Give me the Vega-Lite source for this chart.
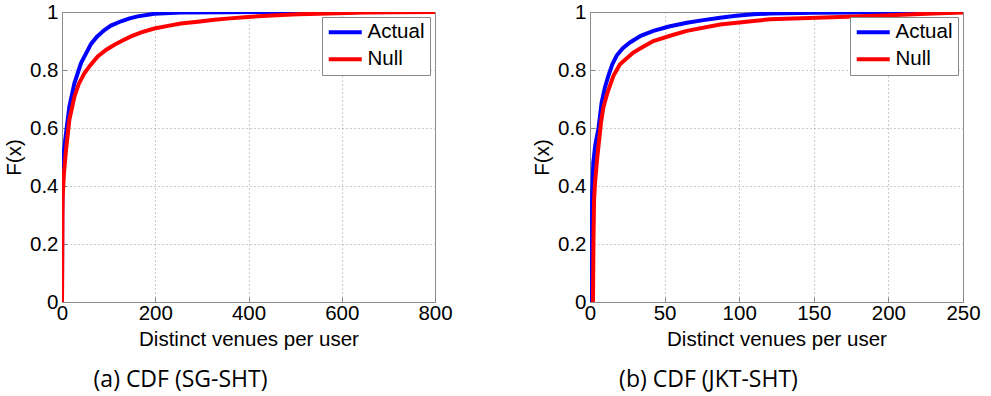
{
  "$schema": "https://vega.github.io/schema/vega-lite/v6.json",
  "padding": {"left": 4, "top": 1, "right": 0, "bottom": 0},
  "background": "white",
  "datasets": {
    "sg": [
      {"series": "Actual", "x": 0, "F": 0},
      {"series": "Actual", "x": 0.5, "F": 0.3},
      {"series": "Actual", "x": 1.5, "F": 0.467},
      {"series": "Actual", "x": 4, "F": 0.52},
      {"series": "Actual", "x": 8.6, "F": 0.581},
      {"series": "Actual", "x": 15.8, "F": 0.674},
      {"series": "Actual", "x": 26.6, "F": 0.754},
      {"series": "Actual", "x": 40.8, "F": 0.824},
      {"series": "Actual", "x": 50, "F": 0.852},
      {"series": "Actual", "x": 62.3, "F": 0.89},
      {"series": "Actual", "x": 75, "F": 0.915},
      {"series": "Actual", "x": 91, "F": 0.938},
      {"series": "Actual", "x": 105, "F": 0.953},
      {"series": "Actual", "x": 126.7, "F": 0.968},
      {"series": "Actual", "x": 145, "F": 0.978},
      {"series": "Actual", "x": 162.5, "F": 0.985},
      {"series": "Actual", "x": 198, "F": 0.994},
      {"series": "Actual", "x": 255, "F": 0.998},
      {"series": "Actual", "x": 350, "F": 0.9995},
      {"series": "Actual", "x": 600, "F": 1.0},
      {"series": "Null", "x": 0, "F": 0},
      {"series": "Null", "x": 1, "F": 0.3},
      {"series": "Null", "x": 1.5, "F": 0.363},
      {"series": "Null", "x": 4, "F": 0.44},
      {"series": "Null", "x": 8.6, "F": 0.524},
      {"series": "Null", "x": 15.8, "F": 0.628},
      {"series": "Null", "x": 26.6, "F": 0.708},
      {"series": "Null", "x": 36, "F": 0.752},
      {"series": "Null", "x": 48, "F": 0.789},
      {"series": "Null", "x": 60, "F": 0.815},
      {"series": "Null", "x": 76.6, "F": 0.847},
      {"series": "Null", "x": 95, "F": 0.87},
      {"series": "Null", "x": 112.5, "F": 0.887},
      {"series": "Null", "x": 130, "F": 0.902},
      {"series": "Null", "x": 148, "F": 0.916},
      {"series": "Null", "x": 170, "F": 0.93},
      {"series": "Null", "x": 198, "F": 0.943},
      {"series": "Null", "x": 230, "F": 0.953},
      {"series": "Null", "x": 255, "F": 0.96},
      {"series": "Null", "x": 291, "F": 0.966},
      {"series": "Null", "x": 327, "F": 0.973},
      {"series": "Null", "x": 360, "F": 0.978},
      {"series": "Null", "x": 398.6, "F": 0.983},
      {"series": "Null", "x": 450, "F": 0.988},
      {"series": "Null", "x": 506, "F": 0.992},
      {"series": "Null", "x": 550, "F": 0.994},
      {"series": "Null", "x": 592, "F": 0.996},
      {"series": "Null", "x": 649, "F": 0.998},
      {"series": "Null", "x": 720, "F": 0.999},
      {"series": "Null", "x": 800, "F": 1.0}
    ],
    "jkt": [
      {"series": "Actual", "x": 0, "F": 0},
      {"series": "Actual", "x": 0.3, "F": 0.1},
      {"series": "Actual", "x": 0.5, "F": 0.22},
      {"series": "Actual", "x": 1, "F": 0.27},
      {"series": "Actual", "x": 1.5, "F": 0.38},
      {"series": "Actual", "x": 2.2, "F": 0.48},
      {"series": "Actual", "x": 3.5, "F": 0.54},
      {"series": "Actual", "x": 5.6, "F": 0.596},
      {"series": "Actual", "x": 7.8, "F": 0.688},
      {"series": "Actual", "x": 10, "F": 0.74},
      {"series": "Actual", "x": 12.3, "F": 0.78},
      {"series": "Actual", "x": 15, "F": 0.82},
      {"series": "Actual", "x": 17.9, "F": 0.85},
      {"series": "Actual", "x": 22, "F": 0.875},
      {"series": "Actual", "x": 26.8, "F": 0.895},
      {"series": "Actual", "x": 34, "F": 0.918},
      {"series": "Actual", "x": 42.5, "F": 0.935},
      {"series": "Actual", "x": 53, "F": 0.95},
      {"series": "Actual", "x": 64.9, "F": 0.963},
      {"series": "Actual", "x": 76, "F": 0.972},
      {"series": "Actual", "x": 87.2, "F": 0.98},
      {"series": "Actual", "x": 98, "F": 0.987},
      {"series": "Actual", "x": 109.6, "F": 0.992},
      {"series": "Actual", "x": 120.7, "F": 0.995},
      {"series": "Actual", "x": 150, "F": 0.997},
      {"series": "Actual", "x": 200, "F": 0.999},
      {"series": "Actual", "x": 250, "F": 1.0},
      {"series": "Null", "x": 2, "F": 0},
      {"series": "Null", "x": 2.3, "F": 0.2},
      {"series": "Null", "x": 2.7, "F": 0.35},
      {"series": "Null", "x": 3.5, "F": 0.42},
      {"series": "Null", "x": 4.9, "F": 0.5},
      {"series": "Null", "x": 7.4, "F": 0.62},
      {"series": "Null", "x": 8.9, "F": 0.67},
      {"series": "Null", "x": 11.6, "F": 0.72},
      {"series": "Null", "x": 15.7, "F": 0.78},
      {"series": "Null", "x": 20.1, "F": 0.82},
      {"series": "Null", "x": 29, "F": 0.86},
      {"series": "Null", "x": 35.6, "F": 0.88},
      {"series": "Null", "x": 42.5, "F": 0.9},
      {"series": "Null", "x": 53.7, "F": 0.918},
      {"series": "Null", "x": 64.9, "F": 0.935},
      {"series": "Null", "x": 87.2, "F": 0.957},
      {"series": "Null", "x": 109.6, "F": 0.969},
      {"series": "Null", "x": 120.7, "F": 0.975},
      {"series": "Null", "x": 152, "F": 0.98},
      {"series": "Null", "x": 196.8, "F": 0.988},
      {"series": "Null", "x": 230, "F": 0.995},
      {"series": "Null", "x": 250, "F": 0.998}
    ]
  },
  "hconcat": [
    {
      "width": 373,
      "height": 290,
      "data": {"name": "sg"},
      "title": {"text": "(a) CDF (SG-SHT)", "orient": "bottom", "anchor": "middle", "dx": -68, "offset": 19},
      "mark": {"type": "line", "strokeWidth": 4, "interpolate": "linear", "clip": true},
      "encoding": {
        "x": {"field": "x", "type": "quantitative", "scale": {"domain": [0, 800], "nice": false}, "axis": {"values": [0, 200, 400, 600, 800], "title": "Distinct venues per user"}},
        "y": {"field": "F", "type": "quantitative", "scale": {"domain": [0, 1], "nice": false}, "axis": {"values": [0, 0.2, 0.4, 0.6, 0.8, 1], "format": "~g", "title": "F(x)"}},
        "color": {"field": "series", "type": "nominal", "scale": {"domain": ["Actual", "Null"], "range": ["#0000ff", "#ff0000"]}, "legend": {"title": null}},
        "order": {"field": "x", "type": "quantitative"}
      }
    },
    {
      "width": 373,
      "height": 290,
      "data": {"name": "jkt"},
      "title": {"text": "(b) CDF (JKT-SHT)", "orient": "bottom", "anchor": "middle", "dx": -68, "offset": 19},
      "mark": {"type": "line", "strokeWidth": 4, "interpolate": "linear", "clip": true},
      "encoding": {
        "x": {"field": "x", "type": "quantitative", "scale": {"domain": [0, 250], "nice": false}, "axis": {"values": [0, 50, 100, 150, 200, 250], "title": "Distinct venues per user"}},
        "y": {"field": "F", "type": "quantitative", "scale": {"domain": [0, 1], "nice": false}, "axis": {"values": [0, 0.2, 0.4, 0.6, 0.8, 1], "format": "~g", "title": "F(x)"}},
        "color": {"field": "series", "type": "nominal", "scale": {"domain": ["Actual", "Null"], "range": ["#0000ff", "#ff0000"]}, "legend": {"title": null}},
        "order": {"field": "x", "type": "quantitative"}
      }
    }
  ],
  "resolve": {"scale": {"color": "independent", "x": "independent", "y": "independent"}, "legend": {"color": "independent"}},
  "spacing": 79,
  "config": {
    "view": {"stroke": "#888888", "strokeWidth": 1},
    "axis": {
      "labelFont": "Liberation Sans",
      "labelFontSize": 20.5,
      "labelColor": "#000000",
      "titleFont": "Liberation Sans",
      "titleFontSize": 20.5,
      "titleFontWeight": "normal",
      "titleColor": "#000000",
      "grid": true,
      "gridColor": "#999999",
      "gridDash": [1, 3],
      "gridOpacity": 1,
      "domain": false,
      "tickColor": "#888888",
      "tickSize": -5,
      "labelOverlap": false,
      "labelFlush": false
    },
    "axisX": {"labelPadding": 6, "titlePadding": 6},
    "axisY": {"labelPadding": 9, "titlePadding": 5},
    "legend": {
      "orient": "top-right",
      "offset": 5,
      "strokeColor": "#888888",
      "fillColor": "#ffffff",
      "padding": 5,
      "labelFont": "Liberation Sans",
      "labelFontSize": 20.5,
      "labelColor": "#000000",
      "labelOffset": 12,
      "symbolOffset": 8,
      "symbolType": "M-5,0H5",
      "symbolStrokeWidth": 4,
      "symbolSize": 43.6,
      "symbolFillColor": "transparent",
      "rowPadding": 6
    },
    "title": {"font": "Open Sans", "fontSize": 23, "fontWeight": "normal", "color": "#000000"}
  }
}
